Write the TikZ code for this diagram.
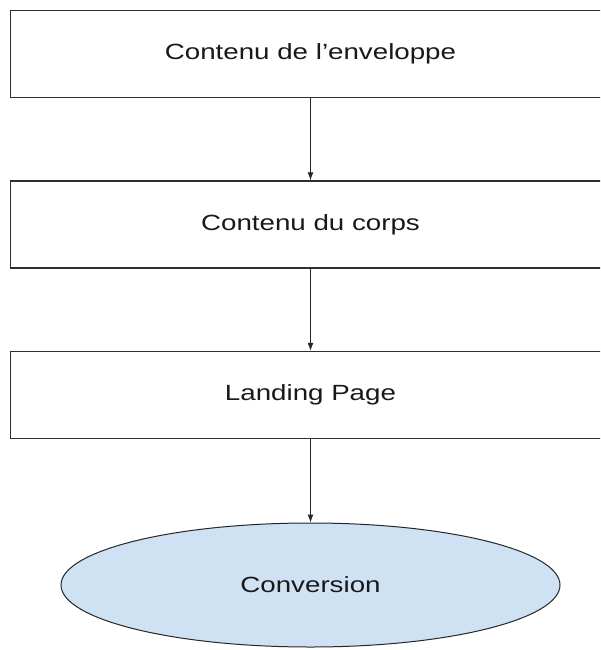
\documentclass[tikz,border=0pt]{standalone}
\usepackage{fontspec}
\setmainfont{Liberation Sans}
\newfontfamily\wfont[FakeStretch=1.26]{Liberation Sans}
\usetikzlibrary{shapes.geometric,arrows.meta}
\definecolor{convblue}{HTML}{CFE2F3}
\definecolor{boxline}{HTML}{2E2E2E}
\tikzset{
  stepbox/.style={draw=boxline, line width=1.4pt, fill=white, rectangle,
    minimum width=600pt, minimum height=87pt, inner sep=0pt,
    font=\wfont\fontsize{22}{26}\selectfont, text=black!90},
  goalell/.style={draw=black!85, line width=1pt, fill=convblue, ellipse,
    minimum width=499pt, minimum height=124pt, inner sep=0pt,
    font=\wfont\fontsize{22}{26}\selectfont, text=black!90},
  flow/.style={draw=black!85, line width=1pt, -{Latex[length=8pt,width=6pt]}}
}
\begin{document}
\begin{tikzpicture}[x=1pt,y=-1pt]
\useasboundingbox (0,0) rectangle (600,650);
\clip (0,0) rectangle (600,650);
\fill[white] (0,0) rectangle (600,650);
\node[stepbox] (b1) at (310.5,54) {Contenu de l’enveloppe};
\node[stepbox] (b2) at (310.5,224.5) {Contenu du corps};
\node[stepbox] (b3) at (310.5,395) {Landing Page};
\node[goalell] (c) at (310.5,585) {Conversion};
\draw[flow] (b1) -- (b2);
\draw[flow] (b2) -- (b3);
\draw[flow] (b3) -- (c);
\end{tikzpicture}
\end{document}
